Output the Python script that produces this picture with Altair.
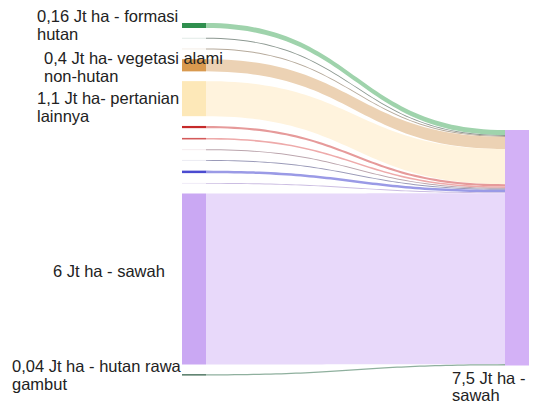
import altair as alt
import numpy as np
import pandas as pd

# ---------------- data ----------------
SOURCES = ["formasi hutan", "sumber 2", "sumber 3", "vegetasi alami non-hutan",
           "pertanian lainnya", "sumber 6", "sumber 7", "sumber 8", "sumber 9",
           "sumber 10", "sumber 11", "sawah", "hutan rawa gambut"]
VALUES = [0.16, 0.03, 0.03, 0.39, 1.12, 0.07, 0.05, 0.03, 0.03, 0.08, 0.03, 5.46, 0.04]
TARGET = "sawah"

NODE_COLORS = ["#2f8f4e", "#dfe9e5", "#f3ede4", "#d99a4f", "#fde8b8", "#c62a2a",
               "#d45a5a", "#f4eaec", "#e9e9f2", "#4b4bd0", "#efe9f7", "#caa8f3", "#2f5e46"]
LINK_COLORS = ["#9fd3ac", "#8c9891", "#b5a99a", "#ecd2b4", "#fff3dd", "#e69a9a",
               "#eeaaaa", "#bba5ad", "#9a9ab8", "#9a9ae6", "#cbbde2", "#e8d9fa", "#8fb09e"]
TARGET_COLOR = "#d3b1f6"

LABEL_NODES = [0, 3, 4, 11, 12]
LABEL_LINES = [["0,16 Jt ha - formasi", "hutan"],
               ["0,4 Jt ha- vegetasi alami", "non-hutan"],
               ["1,1 Jt ha- pertanian", "lainnya"],
               ["6 Jt ha - sawah"],
               ["0,04 Jt ha - hutan rawa", "gambut"]]
RIGHT_LABEL_LINES = ["7,5 Jt ha -", "sawah"]

# ---------------- layout (pixels of the plot area) ----------------
W, H = 521, 398
PX_PER_UNIT = 31.3
GAP_PX = 9.76
TOP_PX = 15.0
RIGHT_TOP_PX = 122.0
LEFT_X_PX = 174.0
NODE_W_PX = 24.0
SPAN_PX = W - LEFT_X_PX
LINE_H_PX = 18.0
FONT_SIZE = 16.5
LABEL_LEFT_PX = [29, 36, 29, 45, 4]
LABEL_DY_PX = [-3.6, -1.5, 5.5, -2.0, -3.0]
RIGHT_LABEL_LEFT_PX = 444
RIGHT_LABEL_DY_PX = 19.0
RIGHT_LINE_H_PX = 17.0

gap_u = GAP_PX / PX_PER_UNIT
nw = NODE_W_PX / SPAN_PX

vals = np.array(VALUES)
left_top = np.concatenate([[0], np.cumsum(vals)[:-1]]) + np.arange(len(vals)) * gap_u
left_bot = left_top + vals
r0 = (RIGHT_TOP_PX - TOP_PX) / PX_PER_UNIT
right_top = r0 + np.concatenate([[0], np.cumsum(vals)[:-1]])
right_bot = right_top + vals
total = vals.sum()

# links as bezier bands
s = np.linspace(0, 1, 60)
x0, x1 = nw, 1 - nw
xm = (x0 + x1) / 2
bx = (1 - s) ** 3 * x0 + 3 * (1 - s) ** 2 * s * xm + 3 * (1 - s) * s ** 2 * xm + s ** 3 * x1
bb = 3 * s ** 2 - 2 * s ** 3
rows = []
for i in range(len(vals)):
    yt = left_top[i] + (right_top[i] - left_top[i]) * bb
    yb = left_bot[i] + (right_bot[i] - left_bot[i]) * bb
    for k in range(len(s)):
        rows.append({"link": i, "src": SOURCES[i], "x": bx[k], "y": yt[k], "y2": yb[k],
                     "color": LINK_COLORS[i], "val": VALUES[i]})
links = pd.DataFrame(rows)

nodes = pd.DataFrame({
    "name": SOURCES + [TARGET],
    "x": [0.0] * len(vals) + [1 - nw],
    "x2": [nw] * len(vals) + [1.0],
    "y": list(left_top) + [r0],
    "y2": list(left_bot) + [r0 + total],
    "color": NODE_COLORS + [TARGET_COLOR],
})

lab_rows = []
for j, n in enumerate(LABEL_NODES):
    center = (left_top[n] + left_bot[n]) / 2
    for k, line in enumerate(LABEL_LINES[j]):
        lab_rows.append({"text": line,
                         "x": (LABEL_LEFT_PX[j] - LEFT_X_PX) / SPAN_PX,
                         "y": center + (LABEL_DY_PX[j] + k * LINE_H_PX) / PX_PER_UNIT})
for k, line in enumerate(RIGHT_LABEL_LINES):
    lab_rows.append({"text": line,
                     "x": (RIGHT_LABEL_LEFT_PX - LEFT_X_PX) / SPAN_PX,
                     "y": r0 + total + (RIGHT_LABEL_DY_PX + k * RIGHT_LINE_H_PX) / PX_PER_UNIT})
labels = pd.DataFrame(lab_rows)

xscale = alt.Scale(domain=[-LEFT_X_PX / SPAN_PX, (W - LEFT_X_PX) / SPAN_PX], nice=False, zero=False)
yscale = alt.Scale(domain=[-TOP_PX / PX_PER_UNIT, (H - TOP_PX) / PX_PER_UNIT], reverse=True,
                   nice=False, zero=False)

link_layer = alt.Chart(links).mark_area(orient="vertical").encode(
    x=alt.X("x:Q", scale=xscale, axis=None),
    y=alt.Y("y:Q", scale=yscale, axis=None),
    y2="y2:Q",
    detail="link:N",
    color=alt.Color("color:N", scale=None),
    tooltip=["src:N", "val:Q"],
)

node_layer = alt.Chart(nodes).mark_rect().encode(
    x=alt.X("x:Q", scale=xscale, axis=None),
    x2="x2:Q",
    y=alt.Y("y:Q", scale=yscale, axis=None),
    y2="y2:Q",
    color=alt.Color("color:N", scale=None),
)

text_layer = alt.Chart(labels).mark_text(
    align="left", baseline="alphabetic", fontSize=FONT_SIZE,
    font="Liberation Sans, Arial, sans-serif", color="#222222",
).encode(
    x=alt.X("x:Q", scale=xscale, axis=None),
    y=alt.Y("y:Q", scale=yscale, axis=None),
    text="text:N",
)

chart = alt.layer(link_layer, node_layer, text_layer).properties(
    width=W, height=H, padding=0, background="white",
    autosize=alt.AutoSizeParams(type="none"),
).configure_view(stroke=None)

chart.save("out.html", embed_options={"renderer": "svg", "actions": False})
